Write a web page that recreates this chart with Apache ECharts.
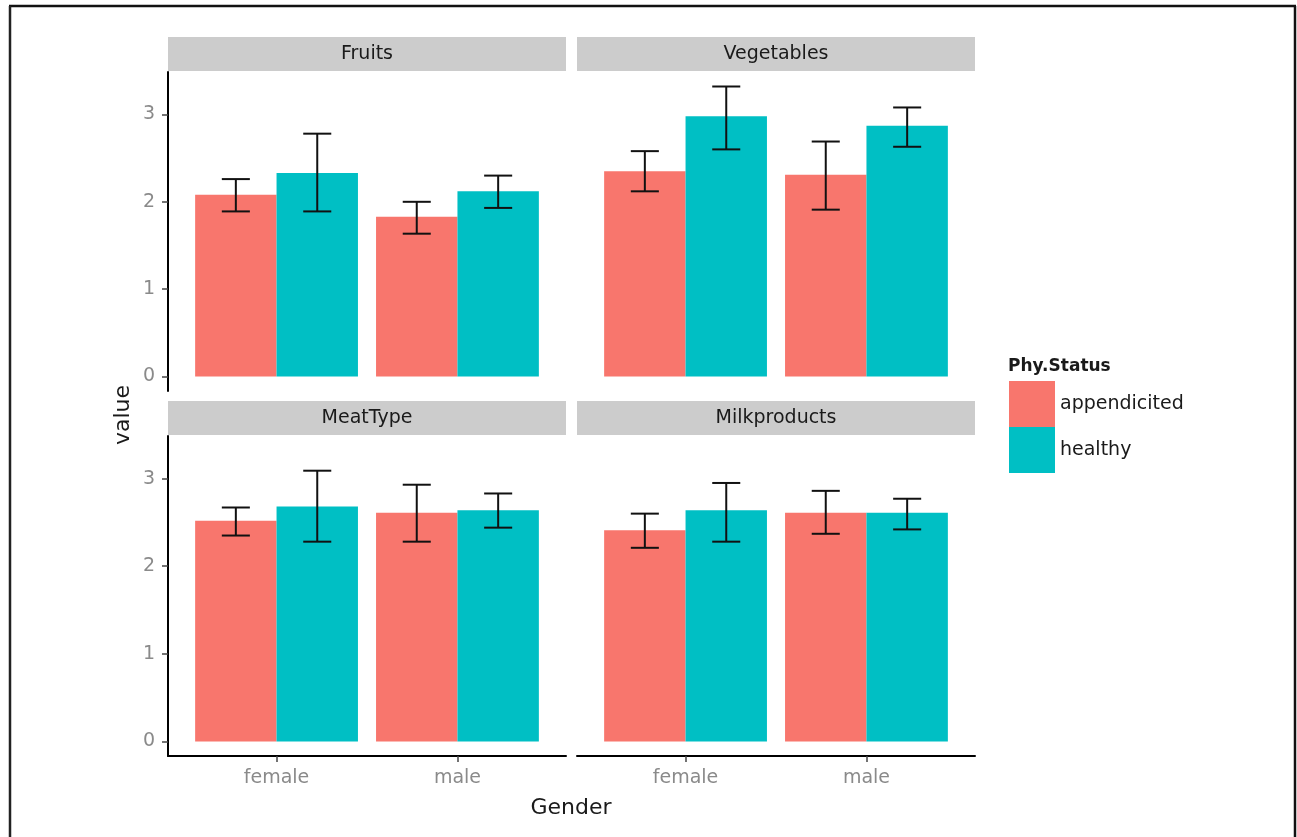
<!DOCTYPE html>
<html>
<head>
    <meta charset="UTF-8">
    <script src="https://cdn.jsdelivr.net/npm/echarts@6/dist/echarts.min.js"></script>
    <title>Phy.Status by Gender</title>
    <style>
        html, body { margin: 0; padding: 0; background: #fff; }
        #main { width: 1297px; height: 837px; }
    </style>
</head>
<body>
<div id="main"></div>
<script>
    // facets, x categories, fill groups
    var facets = ['Fruits', 'Vegetables', 'MeatType', 'Milkproducts'];
    var genders = ['female', 'male'];
    var statuses = ['appendicited', 'healthy'];
    var yTicks = [0, 1, 2, 3];

    // [facet][gender] : mean, lower and upper end of the error bar
    var appendicitedMean = [[2.08, 1.83], [2.35, 2.31], [2.52, 2.61], [2.41, 2.61]];
    var appendicitedLow  = [[1.89, 1.635], [2.12, 1.91], [2.35, 2.28], [2.21, 2.37]];
    var appendicitedHigh = [[2.26, 2.00], [2.58, 2.69], [2.67, 2.93], [2.60, 2.86]];

    var healthyMean = [[2.33, 2.12], [2.98, 2.87], [2.68, 2.64], [2.64, 2.61]];
    var healthyLow  = [[1.89, 1.93], [2.60, 2.63], [2.28, 2.44], [2.28, 2.42]];
    var healthyHigh = [[2.78, 2.30], [3.32, 3.08], [3.09, 2.83], [2.95, 2.77]];

    var colors = ['#F8766D', '#00BFC4'];
    var FONT = 'DejaVu Sans';

    // panel boxes (ggplot facet_wrap 2x2)
    var panels = [
        {left: 168, top: 72, width: 398, height: 319},
        {left: 577, top: 72, width: 398, height: 319},
        {left: 168, top: 436, width: 398, height: 320},
        {left: 577, top: 436, width: 398, height: 320}
    ];

    var myChart = echarts.init(document.getElementById('main'));

    var grids = [], xAxes = [], yAxes = [], series = [], graphics = [];

    panels.forEach(function (p, i) {
        var isLeft = i % 2 === 0;
        var isBottom = i >= 2;
        grids.push({left: p.left, top: p.top, width: p.width, height: p.height});

        xAxes.push({
            gridIndex: i,
            type: 'value',
            min: 0.4,
            max: 2.6,
            splitLine: {show: false},
            axisLine: {show: isBottom, onZero: false, lineStyle: {color: '#000', width: 2}},
            axisTick: {show: isBottom, customValues: [1, 2], length: 6, lineStyle: {color: '#444', width: 1.5}},
            axisLabel: {
                show: isBottom,
                customValues: [1, 2],
                margin: 13,
                color: '#8a8a8a',
                fontFamily: FONT,
                fontSize: 19,
                formatter: function (v) { return genders[Math.round(v) - 1]; }
            }
        });

        yAxes.push({
            gridIndex: i,
            type: 'value',
            min: -0.166,
            max: 3.486,
            splitLine: {show: false},
            axisLine: {show: isLeft, onZero: false, lineStyle: {color: '#000', width: 2}},
            axisTick: {show: isLeft, customValues: yTicks, length: 6, lineStyle: {color: '#444', width: 1.5}},
            axisLabel: {
                show: isLeft,
                customValues: yTicks,
                margin: 13,
                color: '#8a8a8a',
                fontFamily: FONT,
                fontSize: 19
            }
        });

        // strip
        graphics.push({
            type: 'rect',
            shape: {x: p.left, y: p.top - 35, width: p.width, height: 34},
            style: {fill: '#cccccc'}
        });
        graphics.push({
            type: 'text',
            x: p.left + p.width / 2,
            y: p.top - 18,
            style: {
                text: facets[i], align: 'center', verticalAlign: 'middle',
                textAlign: 'center', textVerticalAlign: 'middle',
                font: '19px "DejaVu Sans"', fill: '#1a1a1a'
            }
        });

        statuses.forEach(function (s, si) {
            var mean = si === 0 ? appendicitedMean : healthyMean;
            var low = si === 0 ? appendicitedLow : healthyLow;
            var high = si === 0 ? appendicitedHigh : healthyHigh;
            var shift = si === 0 ? -0.225 : 0.225;
            series.push({
                name: s,
                type: 'custom',
                xAxisIndex: i,
                yAxisIndex: i,
                itemStyle: {color: colors[si]},
                data: genders.map(function (g, gi) {
                    return [gi + 1 + shift, mean[i][gi], low[i][gi], high[i][gi]];
                }),
                renderItem: function (params, api) {
                    var x = api.value(0);
                    var base = api.coord([x - 0.225, 0]);
                    var top = api.coord([x + 0.225, api.value(1)]);
                    var lo = api.coord([x, api.value(2)]);
                    var hi = api.coord([x, api.value(3)]);
                    var capL = api.coord([x - 0.0775, 0])[0];
                    var capR = api.coord([x + 0.0775, 0])[0];
                    var ls = {stroke: '#111', lineWidth: 2};
                    return {
                        type: 'group',
                        children: [
                            {
                                type: 'rect',
                                shape: {x: base[0], y: top[1], width: top[0] - base[0], height: base[1] - top[1]},
                                style: {fill: colors[si]}
                            },
                            {type: 'line', shape: {x1: lo[0], y1: lo[1], x2: hi[0], y2: hi[1]}, style: ls},
                            {type: 'line', shape: {x1: capL, y1: hi[1], x2: capR, y2: hi[1]}, style: ls},
                            {type: 'line', shape: {x1: capL, y1: lo[1], x2: capR, y2: lo[1]}, style: ls}
                        ]
                    };
                }
            });
        });
    });

    // axis titles
    graphics.push({
        type: 'text', x: 571, y: 808,
        style: {text: 'Gender', align: 'center', verticalAlign: 'middle', textAlign: 'center', textVerticalAlign: 'middle',
            font: '22px "DejaVu Sans"', fill: '#1a1a1a'}
    });
    graphics.push({
        type: 'text', x: 123, y: 415, rotation: Math.PI / 2,
        style: {text: 'value', align: 'center', verticalAlign: 'middle', textAlign: 'center', textVerticalAlign: 'middle',
            font: '22px "DejaVu Sans"', fill: '#1a1a1a'}
    });
    // legend title
    graphics.push({
        type: 'text', x: 1008, y: 367,
        style: {text: 'Phy.Status', align: 'left', verticalAlign: 'middle', textAlign: 'left', textVerticalAlign: 'middle',
            font: 'bold 17px "DejaVu Sans"', fill: '#1a1a1a'}
    });
    // outer frame of the screenshot
    graphics.push({type: 'line', shape: {x1: 9, y1: 6, x2: 1296, y2: 6}, style: {stroke: '#111', lineWidth: 2.5}});
    graphics.push({type: 'line', shape: {x1: 10, y1: 6, x2: 10, y2: 837}, style: {stroke: '#222', lineWidth: 2.5}});
    graphics.push({type: 'line', shape: {x1: 1295, y1: 6, x2: 1295, y2: 837}, style: {stroke: '#111', lineWidth: 2.5}});

    myChart.setOption({
        animation: false,
        grid: grids,
        xAxis: xAxes,
        yAxis: yAxes,
        legend: {
            data: statuses,
            orient: 'vertical',
            left: 1004,
            top: 376,
            icon: 'rect',
            itemWidth: 46,
            itemHeight: 46,
            itemGap: 0,
            selectedMode: false,
            textStyle: {fontFamily: FONT, fontSize: 19, color: '#1a1a1a'}
        },
        graphic: graphics,
        series: series
    });
</script>
</body>
</html>
